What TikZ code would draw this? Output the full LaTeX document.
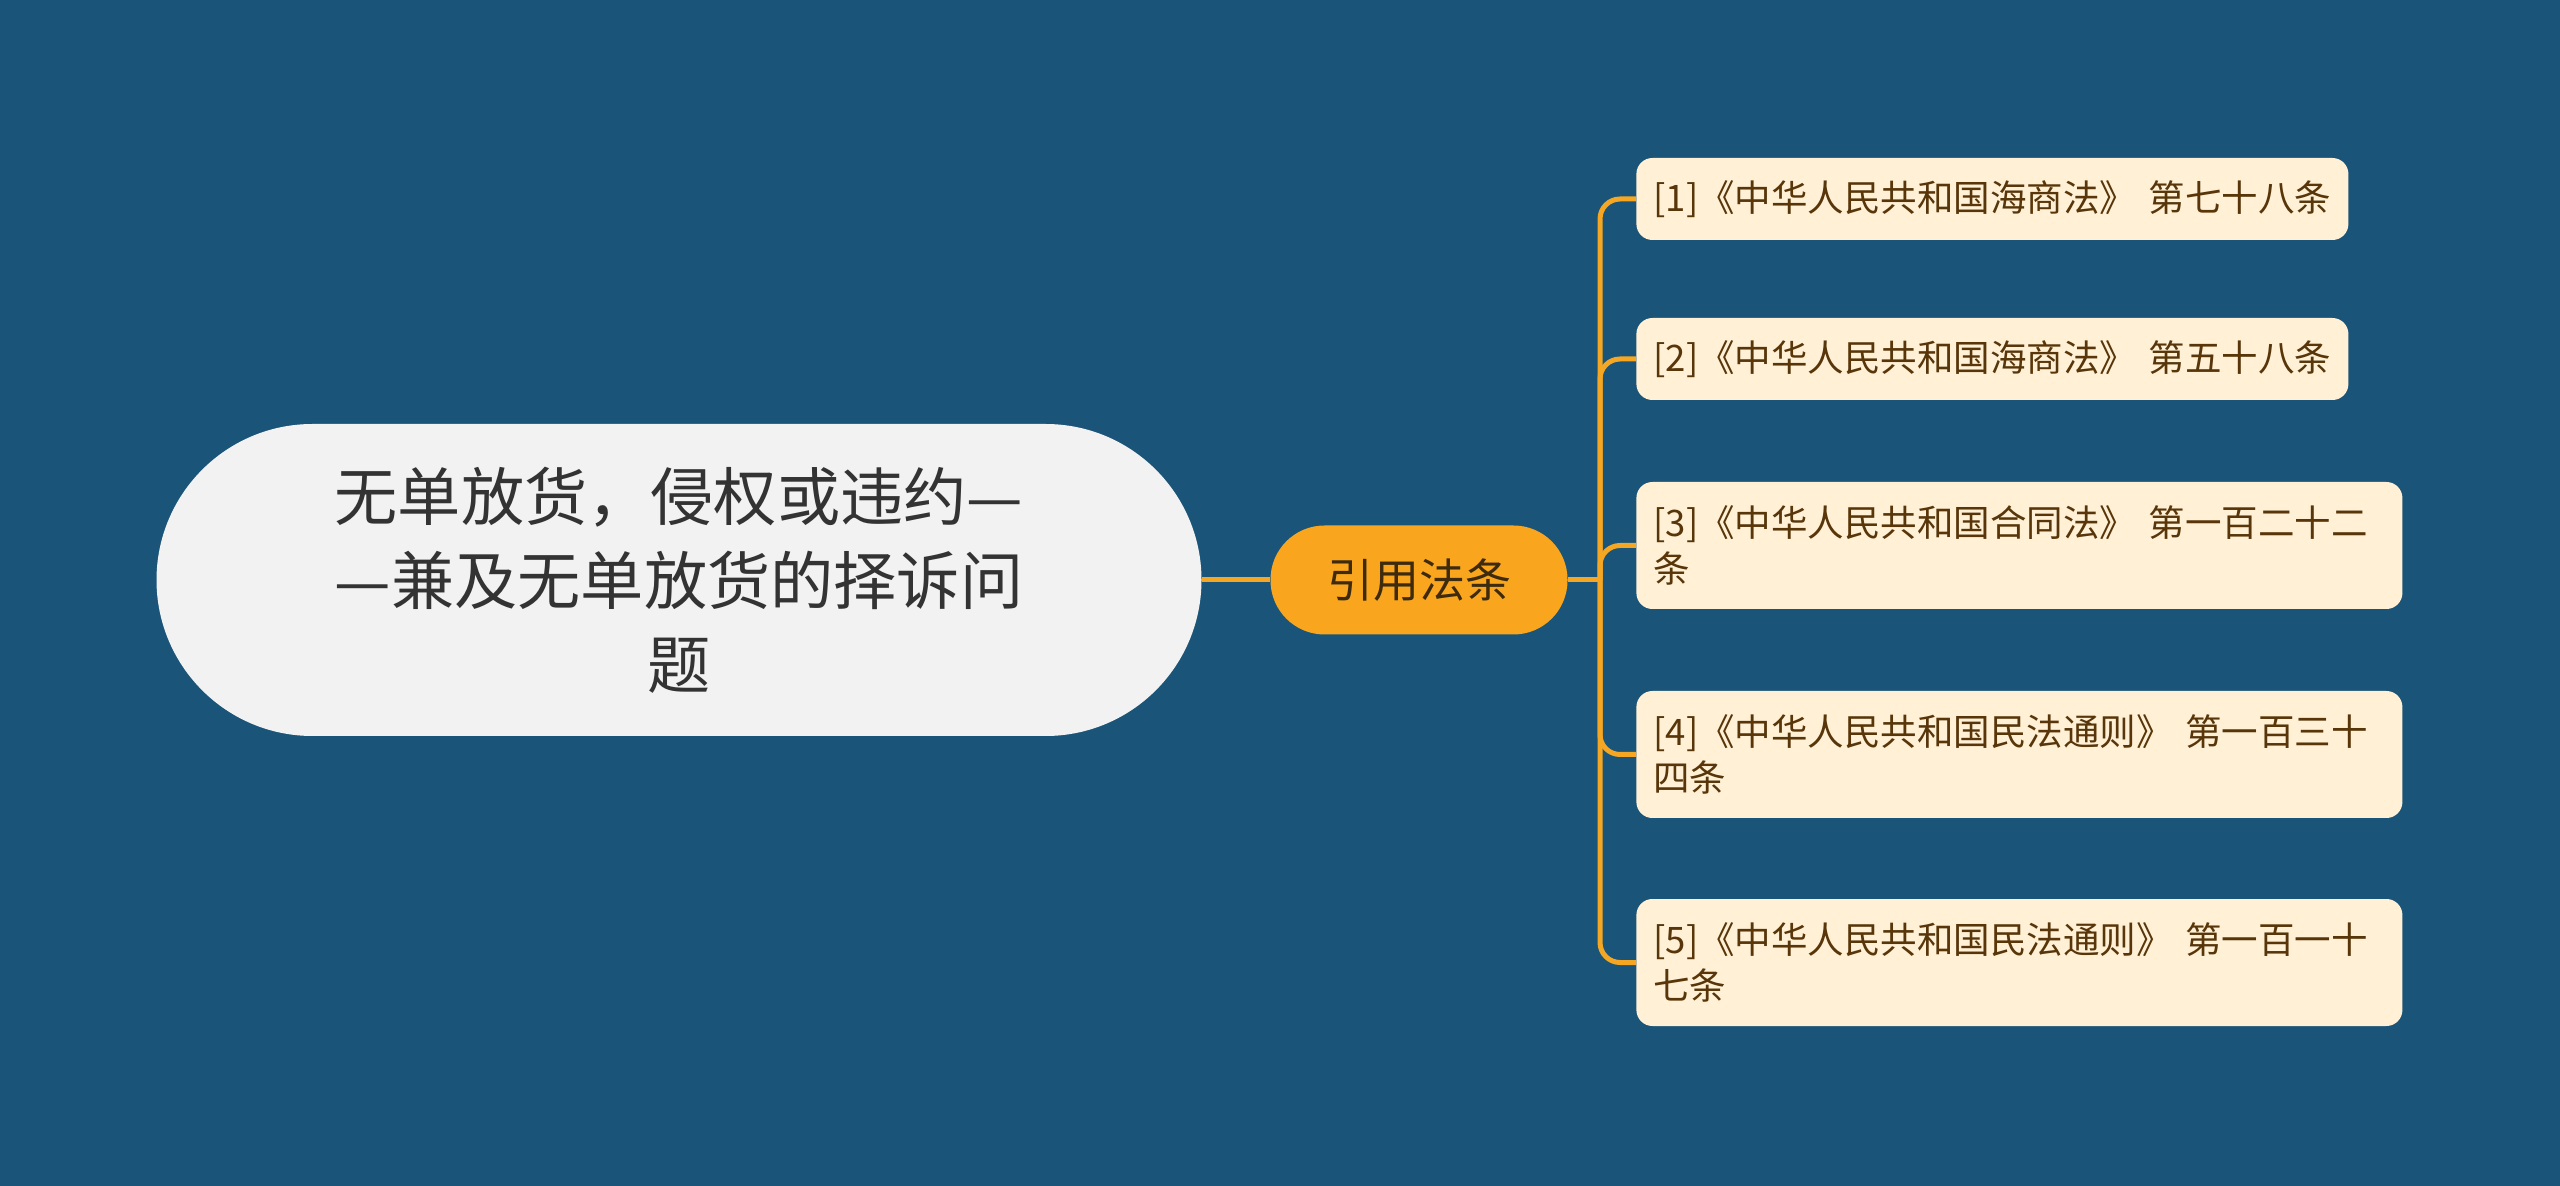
\documentclass[tikz,border=0pt]{standalone}
\usepackage{fontspec}
\setmainfont{Noto Sans CJK SC}
\definecolor{bgcol}{RGB}{26,84,120}
\definecolor{linecol}{RGB}{245,166,35}
\definecolor{rootfill}{RGB}{242,242,242}
\definecolor{roottext}{RGB}{51,51,51}
\definecolor{midfill}{RGB}{249,166,30}
\definecolor{midtext}{RGB}{62,42,12}
\definecolor{leaffill}{RGB}{255,240,214}
\definecolor{leaftext}{RGB}{88,54,10}
\begin{document}
\begin{tikzpicture}[x=0.5pt,y=-0.5pt,
  rootbox/.style={fill=rootfill, text=roottext, rounded corners=78pt,
    minimum width=522.5pt, minimum height=156pt, inner sep=0pt, align=center,
    font=\fontsize{31.6}{42}\selectfont},
  midbox/.style={fill=midfill, text=midtext, rounded corners=27pt,
    minimum width=148.5pt, minimum height=54.5pt, inner sep=0pt,
    font=\fontsize{23}{28}\selectfont},
  leafbox/.style={fill=leaffill, text=leaftext, rounded corners=8pt,
    inner xsep=8.5pt, inner ysep=0pt, align=left, anchor=west,
    font=\fontsize{18.25}{23}\selectfont},
  shortleaf/.style={leafbox, text width=339pt, minimum height=41pt},
  longleaf/.style={leafbox, text width=366pt, minimum height=63.5pt},
  conn/.style={draw=linecol, line width=2.5pt},
  branch/.style={conn, rounded corners=10pt}]
\fill[bgcol] (0,0) rectangle (2560,1186);
\useasboundingbox (0,0) rectangle (2560,1186);

\node[rootbox] (root) at (679,580) {无单放货，侵权或违约—\\—兼及无单放货的择诉问\\题};
\node[midbox] (mid) at (1419,580) {引用法条};
\coordinate (J) at (1600,580);

\node[shortleaf] (l1) at (1636,199) {\mbox{[1]《中华人民共和国海商法》 第七十八条}};
\node[shortleaf] (l2) at (1636,359) {\mbox{[2]《中华人民共和国海商法》 第五十八条}};
\node[longleaf] (l3) at (1636,545.5) {\mbox{[3]《中华人民共和国合同法》 第一百二十二}\\条};
\node[longleaf] (l4) at (1636,754.5) {\mbox{[4]《中华人民共和国民法通则》 第一百三十}\\四条};
\node[longleaf] (l5) at (1636,962.5) {\mbox{[5]《中华人民共和国民法通则》 第一百一十}\\七条};

\draw[conn] (root.east) -- (mid.west);
\draw[conn] (mid.east) -- (J);
\foreach \n in {l1,l2,l3,l4,l5} {
  \draw[branch] (J) |- (\n.west);
}
\end{tikzpicture}
\end{document}
